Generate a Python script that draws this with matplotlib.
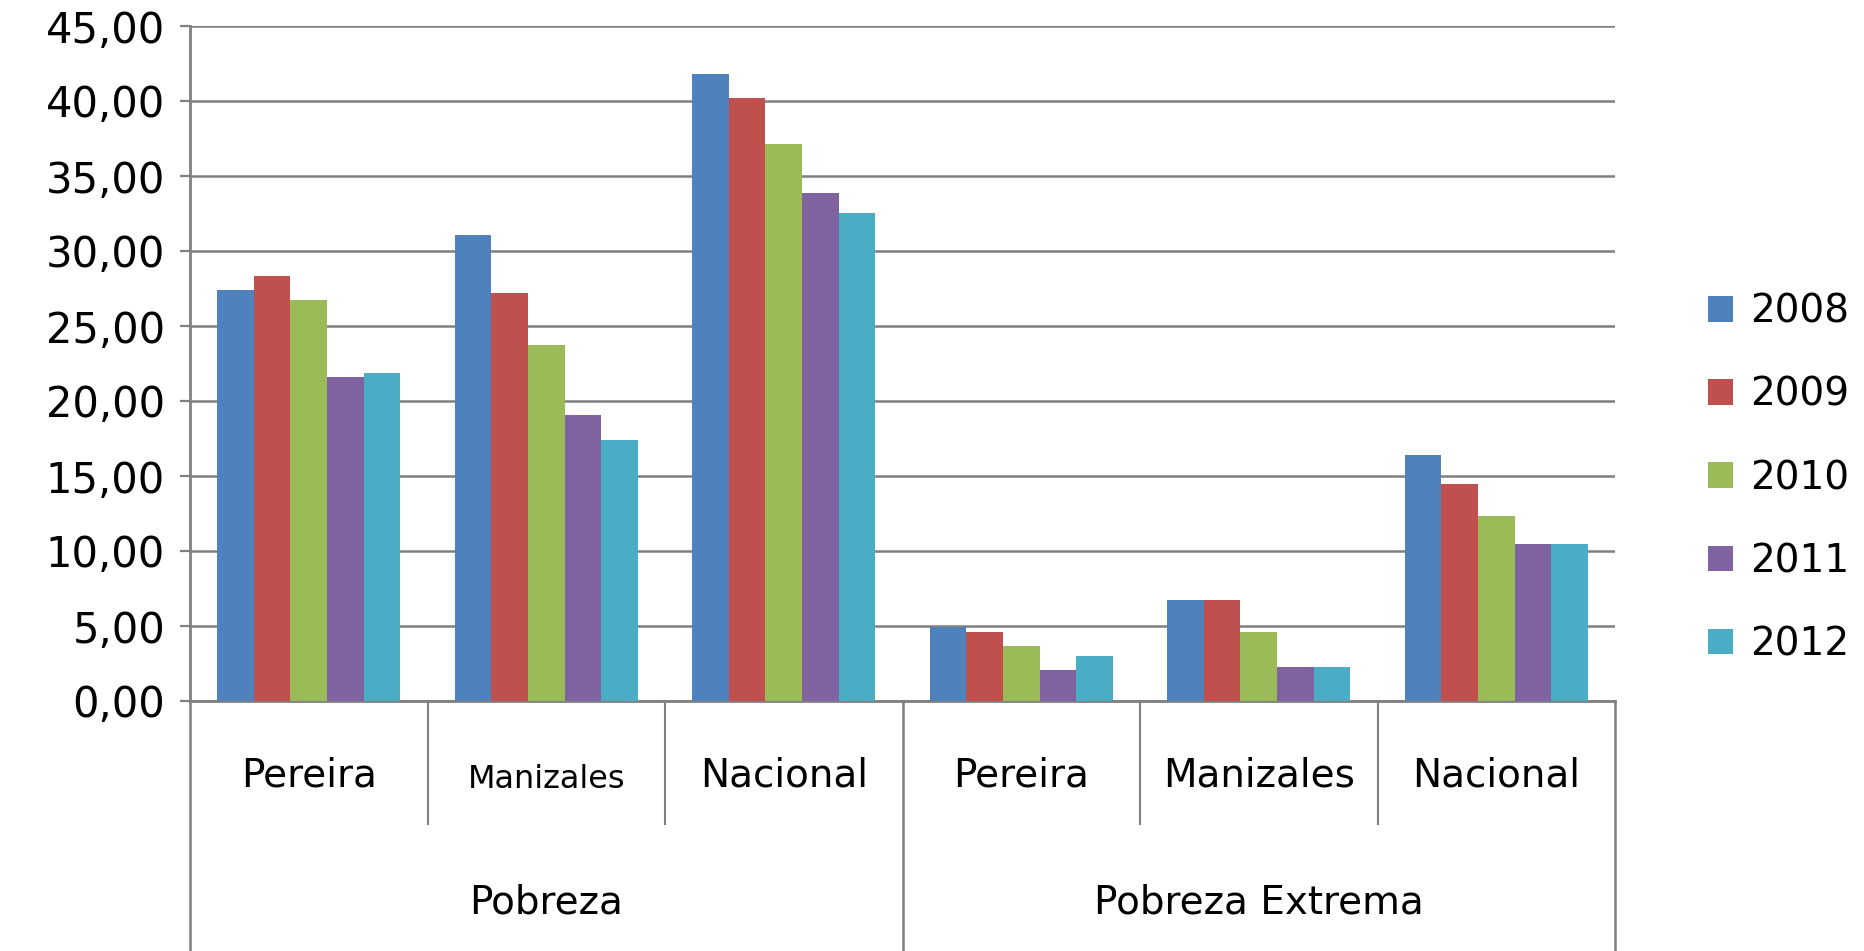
import matplotlib
matplotlib.use('Agg')
import matplotlib.pyplot as plt
import numpy as np
from matplotlib.transforms import blended_transform_factory
from matplotlib.patches import Patch

years = ['2008', '2009', '2010', '2011', '2012']
cities = ['Pereira', 'Manizales', 'Nacional', 'Pereira', 'Manizales', 'Nacional']
groups = ['Pobreza', 'Pobreza Extrema']
v2008 = [27.43, 31.08, 41.83, 4.93, 6.76, 16.37]
v2009 = [28.35, 27.18, 40.23, 4.62, 6.76, 14.50]
v2010 = [26.72, 23.74, 37.13, 3.69, 4.62, 12.36]
v2011 = [21.59, 19.04, 33.90, 2.05, 2.30, 10.47]
v2012 = [21.87, 17.41, 32.56, 2.97, 2.30, 10.47]
series = [v2008, v2009, v2010, v2011, v2012]
colors = ['#4F81BD', '#C0504D', '#9BBB59', '#8064A2', '#4BACC6']
yticks = [0, 5, 10, 15, 20, 25, 30, 35, 40, 45]

W, H = 1864, 951
fig = plt.figure(figsize=(W / 100, H / 100), dpi=100)
ax = fig.add_axes([190 / W, (H - 701) / H, (1615 - 190) / W, 675 / H])

FS = 28
grey = '#808080'
n = len(series)
bw = 1 / 6.5
x = np.arange(len(cities))
for i, (vals, c) in enumerate(zip(series, colors)):
    ax.bar(x + (i - (n - 1) / 2) * bw, vals, width=bw, color=c, zorder=3, linewidth=0)

ax.set_xlim(-0.5, len(cities) - 0.5)
ax.set_ylim(0, 45)
ax.set_yticks(yticks)
ax.set_yticklabels([f'{t:.2f}'.replace('.', ',') for t in yticks], fontsize=30, family='DejaVu Sans')
ax.tick_params(axis='y', length=7, width=1.6, color=grey, pad=11)
ax.set_xticks([])
ax.grid(axis='y', color=grey, linewidth=1.8, zorder=0)
ax.set_axisbelow(True)
for s in ['top', 'right']:
    ax.spines[s].set_visible(False)
for s in ['left', 'bottom']:
    ax.spines[s].set_color(grey)
    ax.spines[s].set_linewidth(2.0)

tr = blended_transform_factory(ax.transData, ax.transAxes)
# category separators
for xs in [0.5, 1.5, 3.5, 4.5]:
    ax.plot([xs, xs], [0, -0.182], transform=tr, color=grey, lw=1.5, clip_on=False)
for xs in [-0.5, 2.5, 5.5]:
    ax.plot([xs, xs], [0, -0.40], transform=tr, color=grey, lw=1.8, clip_on=False)

for i, c in enumerate(cities):
    fs = FS * 0.82 if i == 1 else FS
    yy = -0.116 if i == 1 else -0.11
    ax.text(i, yy, c, transform=tr, ha='center', va='center', fontsize=fs)
for g, gx in zip(groups, [1, 4]):
    ax.text(gx, -0.299, g, transform=tr, ha='center', va='center', fontsize=FS)

handles = [Patch(facecolor=c, edgecolor='none') for c in colors]
fig.legend(handles, years, loc='center left', bbox_to_anchor=(1708 / W, 1 - 478 / H),
           frameon=False, fontsize=FS, handlelength=0.64, handleheight=0.64,
           handletextpad=0.45, labelspacing=1.16, borderpad=0, borderaxespad=0)

fig.savefig('out.png', dpi=100, facecolor='white')
